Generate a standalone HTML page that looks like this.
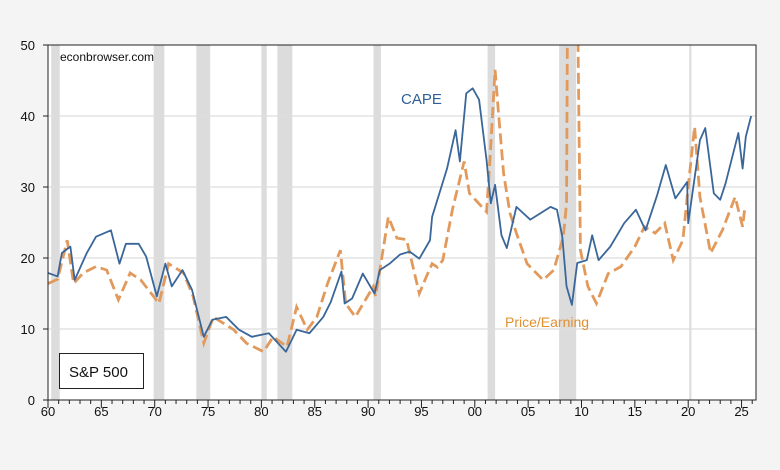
<!DOCTYPE html>
<html><head><meta charset="utf-8"><style>
body{margin:0;background:#f4f4f4;}
svg{display:block;font-family:"Liberation Sans",sans-serif;}
</style></head><body>
<svg id="chart" width="780" height="470">
<rect x="0" y="0" width="780" height="470" fill="#f4f4f4"/>
<rect x="48" y="45" width="708" height="355" fill="#ffffff"/>
<g id="rec"></g><g id="grid"></g>
<defs><clipPath id="clip"><rect x="48" y="45" width="708" height="355"/></clipPath></defs>
<g id="series" clip-path="url(#clip)"></g>
<rect x="48" y="45" width="708" height="355" fill="none" stroke="#222" stroke-width="1"/>
<g id="axes"></g>
<text x="60" y="61" font-size="12" fill="#111">econbrowser.com</text>
<rect x="59.5" y="353.5" width="84" height="35" fill="#fff" stroke="#222"/>
<text x="69" y="377" font-size="15" fill="#111">S&amp;P 500</text>
<text x="401" y="104" font-size="15" fill="#2f5f95">CAPE</text>
<text x="505" y="327" font-size="14" fill="#e0902f">Price/Earning</text>
</svg>
<script>
const recStart=[1960.3,1969.9,1973.9,1980.0,1981.5,1990.5,2001.2,2007.9,2020.1];
const recEnd=[1961.1,1970.9,1975.2,1980.5,1982.9,1991.2,2001.9,2009.5,2020.3];
const yTicks=[0,10,20,30,40,50];
const xTickYears=[1960,1965,1970,1975,1980,1985,1990,1995,2000,2005,2010,2015,2020,2025];
const xTickLabels=["60","65","70","75","80","85","90","95","00","05","10","15","20","25"];
const capeYears=[1960,1960.9,1961.3,1962.1,1962.5,1963.6,1964.5,1965.9,1966.7,1967.3,1968.5,1969.2,1970.2,1971.0,1971.6,1972.6,1973.5,1974.6,1975.4,1976.7,1977.9,1979.1,1980.7,1982.3,1983.3,1984.5,1985.8,1986.5,1987.5,1987.8,1988.5,1989.5,1990.6,1991.1,1992.05,1993.0,1993.9,1994.8,1995.8,1996.0,1997.4,1998.2,1998.6,1999.2,1999.8,2000.4,2001.1,2001.5,2001.9,2002.5,2003.0,2003.9,2005.2,2007.1,2007.7,2008.2,2008.6,2009.1,2009.6,2010.5,2011.0,2011.6,2012.7,2014.0,2015.1,2016.0,2017.1,2017.9,2018.8,2019.9,2020.0,2021.1,2021.6,2022.4,2023.0,2023.5,2024.7,2025.1,2025.4,2025.9];
const capeValues=[17.9,17.4,20.7,21.6,16.9,20.6,23,23.9,19.2,22,22,20.2,14.6,19.2,16,18.3,15.5,8.9,11.3,11.7,9.9,8.9,9.4,6.8,9.9,9.4,11.7,13.8,18.1,13.6,14.3,17.8,15,18.3,19.25,20.5,20.9,19.9,22.5,25.8,32.6,38,33.6,43.2,43.9,42.3,33.8,27.7,30.3,23.2,21.4,27.2,25.4,27.2,26.8,23,16,13.4,19.3,19.7,23.2,19.7,21.6,24.9,26.8,23.9,28.9,33.1,28.4,30.7,24.9,36.6,38.3,29.1,28.2,30.5,37.6,32.6,37.1,40];
const peYears=[1960,1960.9,1961.8,1962.4,1963.3,1964.5,1965.5,1966.6,1967.7,1968.7,1970.4,1971.3,1972.7,1973.6,1974.6,1975.5,1977.4,1978.6,1980.2,1981.1,1982.4,1983.3,1984.3,1985.2,1986.2,1987.4,1987.9,1988.8,1990.5,1990.7,1991.9,1992.7,1993.6,1994.8,1995.5,1996.0,1996.5,1997.0,1997.9,1999.0,1999.5,2001.1,2001.4,2001.9,2002.2,2002.7,2003.3,2003.9,2004.9,2006.4,2007.4,2008.3,2008.6,2008.9,2009.3,2009.6,2009.9,2010.6,2011.4,2012.5,2013.7,2015.0,2015.9,2016.9,2017.8,2018.6,2019.5,2020.0,2020.6,2021.1,2022.1,2023.2,2024.4,2025.1,2025.3];
const peValues=[16.4,17,22.5,16.4,17.9,18.8,18.3,14.1,17.9,16.9,13.6,19.2,17.9,14.6,8,11.7,9.9,8,6.8,8.9,7.5,13.1,9.9,11.7,16.4,21.1,13.6,11.7,16,14.6,25.8,22.8,22.6,15,17.5,19.2,18.7,19.7,26.8,33.6,29.1,26.5,33.3,46.5,40.8,31.9,26.3,23.5,19.2,16.9,18.3,23,27.7,120,120,60,21.1,16,13.6,17.8,18.8,21.6,24.4,23.5,24.9,19.7,22.5,30,38.5,28.6,20.7,23.9,28.6,24.4,27];
const NS="http://www.w3.org/2000/svg";
const X0=48,X1=756,Y0=400,Y1=45;
const xs=yr=>X0+(yr-1960)*10.67;
const ys=v=>Y0-(v/50)*(Y0-Y1);
function mk(tag,attrs,parent){const e=document.createElementNS(NS,tag);for(const k in attrs)e.setAttribute(k,attrs[k]);document.getElementById(parent).appendChild(e);return e;}
recStart.forEach((s,i)=>{
  const r=mk('rect',{x:xs(s),y:Y1,width:Math.max(2,xs(recEnd[i])-xs(s)),height:Y0-Y1,fill:'#dcdcdc'},'rec');
  
  
});
yTicks.forEach(v=>{
  if(v>0&&v<50){const g=mk('line',{x1:X0,x2:X1,y1:ys(v),y2:ys(v),stroke:'#dddddd','stroke-width':1.2},'grid');
  
  }
  const t=mk('line',{x1:X0-5,x2:X0,y1:ys(v),y2:ys(v),stroke:'#222'},'axes');
  
  
  const l=mk('text',{x:35,y:ys(v)+5,'font-size':13,'text-anchor':'end',fill:'#111'},'axes');
  l.textContent=v;
  
  
});
for(let yr=1960;yr<=2026;yr++){
  const major=yr%5===0;
  const t=mk('line',{x1:xs(yr),x2:xs(yr),y1:Y0,y2:Y0+(major?8:4),stroke:'#222'},'axes');
  
  
}
xTickYears.forEach((yr,i)=>{
  const l=mk('text',{x:xs(yr),y:416,'font-size':13,'text-anchor':'middle',fill:'#111'},'axes');
  l.textContent=xTickLabels[i];
  
  
});
const pe=mk('polyline',{points:peYears.map((y,i)=>xs(y)+','+ys(peValues[i])).join(' '),fill:'none',stroke:'#e29a5c','stroke-width':2.8,'stroke-dasharray':'11,5'},'series');


const cape=mk('polyline',{points:capeYears.map((y,i)=>xs(y)+','+ys(capeValues[i])).join(' '),fill:'none',stroke:'#3a6699','stroke-width':1.8,'stroke-linejoin':'round'},'series');


</script>
</body></html>
